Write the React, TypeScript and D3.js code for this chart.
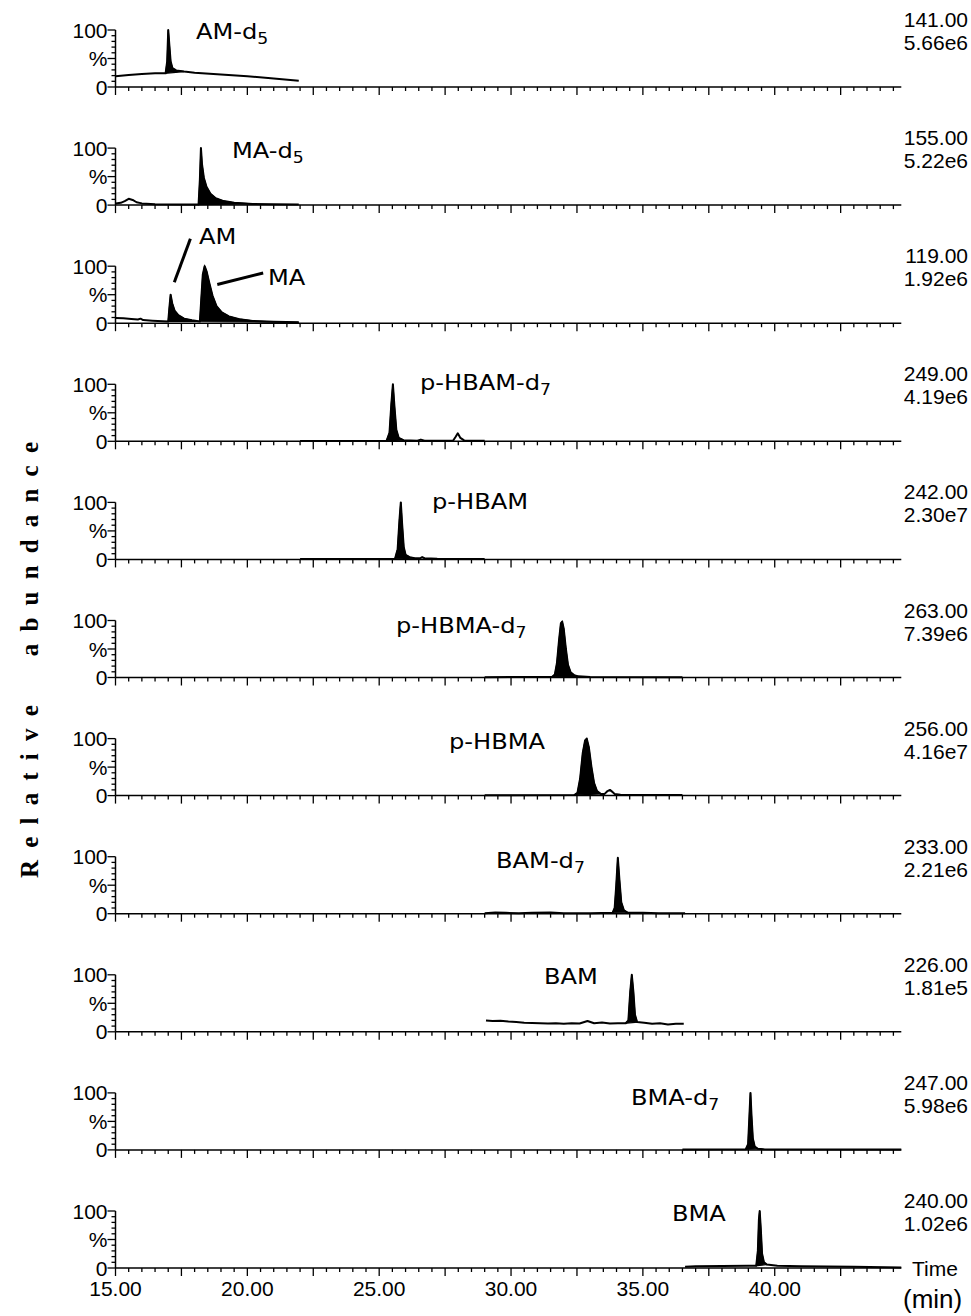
import React from 'react';
import * as d3 from 'd3';

type Pt = [number, number];

// retention time (min), relative abundance (%)
const amD5Trace: Pt[] = [
  [15.0, 19], [15.5, 21], [16.0, 23], [16.5, 24], [16.9, 24], [16.96, 45], [17.0, 100], [17.04, 75],
  [17.09, 45], [17.16, 33], [17.3, 29], [17.6, 27], [18.0, 25], [19.0, 22], [20.0, 19], [21.0, 15], [21.95, 11],
];
const maD5Trace: Pt[] = [
  [15.0, 3], [15.2, 4], [15.35, 7], [15.5, 11], [15.65, 9], [15.8, 5], [16.0, 3], [16.5, 1.5], [17.5, 1],
  [18.15, 1], [18.2, 45], [18.24, 100], [18.28, 72], [18.35, 48], [18.45, 32], [18.6, 20], [18.8, 12],
  [19.1, 7], [19.5, 4], [20.2, 2], [21.0, 1.5], [21.95, 1],
];
const amMaTrace: Pt[] = [
  [15.0, 9], [15.3, 8.5], [15.6, 7.5], [15.85, 6.5], [15.95, 8], [16.05, 5.5], [16.4, 4.5], [16.8, 3.5],
  [17.0, 3], [17.04, 25], [17.09, 50], [17.15, 35], [17.24, 22], [17.38, 14], [17.6, 8], [17.9, 5], [18.2, 3],
  [18.25, 40], [18.31, 85], [18.38, 100], [18.46, 90], [18.56, 70], [18.68, 48], [18.83, 30], [19.03, 19],
  [19.3, 12], [19.7, 7], [20.2, 4], [21.0, 2.5], [21.95, 1.5],
];
const hbamD7Trace: Pt[] = [
  [22.0, 0.5], [25.28, 1], [25.39, 15], [25.46, 65], [25.52, 100], [25.58, 60], [25.65, 20], [25.74, 6],
  [25.92, 2], [26.45, 1], [26.58, 3], [26.72, 1], [27.8, 1], [27.9, 8], [27.98, 14], [28.08, 6],
  [28.22, 1.5], [29.0, 1],
];
const hbamTrace: Pt[] = [
  [22.0, 0.5], [25.6, 1], [25.7, 18], [25.77, 70], [25.82, 100], [25.87, 62], [25.93, 22], [26.0, 8],
  [26.15, 4], [26.35, 2], [26.55, 2], [26.63, 4], [26.72, 2], [27.2, 1], [29.0, 0.5],
];
const hbmaD7Trace: Pt[] = [
  [29.0, 0.5], [31.55, 1], [31.66, 5], [31.74, 25], [31.82, 65], [31.89, 95], [31.94, 98], [32.0, 85],
  [32.08, 50], [32.16, 22], [32.26, 9], [32.4, 4], [32.55, 2], [33.0, 1], [36.5, 0.5],
];
const hbmaTrace: Pt[] = [
  [29.0, 0.5], [32.4, 1], [32.52, 5], [32.62, 30], [32.72, 75], [32.81, 97], [32.87, 100], [32.95, 85],
  [33.05, 50], [33.15, 22], [33.26, 8], [33.4, 3], [33.55, 3], [33.66, 8], [33.75, 10], [33.83, 7],
  [33.93, 3], [34.15, 1.5], [36.5, 1],
];
const bamD7Trace: Pt[] = [
  [29.0, 1], [29.4, 2], [29.8, 1.5], [30.3, 1], [30.8, 1.5], [31.5, 2], [32.0, 1], [33.0, 1], [33.85, 1.5],
  [33.93, 10], [33.99, 50], [34.05, 98], [34.11, 60], [34.18, 20], [34.28, 6], [34.42, 2], [35.0, 1.5],
  [35.6, 1], [36.6, 1],
];
const bamTrace: Pt[] = [
  [29.05, 20], [29.3, 19], [29.6, 19.5], [29.9, 18], [30.2, 17], [30.5, 16], [30.8, 15.5], [31.1, 15],
  [31.4, 14.5], [31.7, 15], [32.0, 14], [32.3, 15], [32.6, 14.5], [32.9, 19], [33.15, 15], [33.45, 16.5],
  [33.75, 14.5], [34.05, 15], [34.35, 15], [34.45, 20], [34.52, 70], [34.58, 100], [34.64, 70], [34.7, 30],
  [34.78, 17], [35.05, 16], [35.35, 14], [35.65, 15], [35.95, 13], [36.25, 14], [36.55, 14],
];
const bmaD7Trace: Pt[] = [
  [36.5, 0.5], [38.9, 1], [38.99, 10], [39.04, 60], [39.08, 100], [39.12, 60], [39.17, 20], [39.24, 6],
  [39.36, 2], [39.6, 1], [44.8, 0.5],
];
const bmaTrace: Pt[] = [
  [36.6, 2], [37.0, 3], [38.0, 3.5], [39.0, 4], [39.3, 4], [39.36, 30], [39.4, 85], [39.43, 100],
  [39.47, 70], [39.52, 25], [39.59, 10], [39.7, 6], [40.1, 4], [41.0, 3], [42.0, 2.5], [43.0, 2], [44.8, 1],
];

const traces = [
  amD5Trace, maD5Trace, amMaTrace, hbamD7Trace, hbamTrace, hbmaD7Trace,
  hbmaTrace, bamD7Trace, bamTrace, bmaD7Trace, bmaTrace,
];

// integrated (filled) peak windows, min
const peakWindows: [number, number][][] = [
  [[16.9, 17.6]],
  [[18.15, 20.2]],
  [[17.0, 18.2], [18.2, 21.95]],
  [[25.28, 25.92]],
  [[25.6, 26.35]],
  [[31.55, 32.55]],
  [[32.4, 33.4]],
  [[33.85, 34.42]],
  [[34.35, 34.78]],
  [[38.9, 39.36]],
  [[39.3, 39.7]],
];

const massLabels = ['141.00', '155.00', '119.00', '249.00', '242.00', '263.00', '256.00', '233.00', '226.00', '247.00', '240.00'];
const intensityLabels = ['5.66e6', '5.22e6', '1.92e6', '4.19e6', '2.30e7', '7.39e6', '4.16e7', '2.21e6', '1.81e5', '5.98e6', '1.02e6'];

const compoundNames: [string, string][][] = [
  [['AM-d', '5']],
  [['MA-d', '5']],
  [['AM', ''], ['MA', '']],
  [['p-HBAM-d', '7']],
  [['p-HBAM', '']],
  [['p-HBMA-d', '7']],
  [['p-HBMA', '']],
  [['BAM-d', '7']],
  [['BAM', '']],
  [['BMA-d', '7']],
  [['BMA', '']],
];

// label placement: [left x px, offset from panel baseline px]
const namePlacement: [number, number][][] = [
  [[196, -48]],
  [[232, -47]],
  [[199, -79], [268, -38]],
  [[420, -51]],
  [[432, -50]],
  [[396, -45]],
  [[449, -47]],
  [[496, -46]],
  [[544, -48]],
  [[631, -45]],
  [[672, -47]],
];

// pointer lines in panel 3 (time, %)
const pointerLines: [Pt, Pt][] = [
  [[17.23, 72], [17.84, 148]],
  [[18.86, 68], [20.6, 88]],
];

const xTickLabels = [15, 20, 25, 30, 35, 40];

const W = 971;
const H = 1316;
const panelTop0 = 87;
const panelStep = 118.1;
const panelH = 57;

export default function App() {
  const x = d3.scaleLinear().domain([15, 44.8]).range([115.5, 901.3]);
  const minorTicks = d3.range(15, 44.81, 0.5);

  return (
    <svg width={W} height={H} style={{ position: 'absolute', left: 0, top: 0, background: '#fff' }}>
      <text
        transform="translate(38,660) rotate(-90)"
        textAnchor="middle"
        fontFamily="Liberation Serif"
        fontWeight="bold"
        fontSize={25}
        textLength={436}
        lengthAdjust="spacing"
        style={{ whiteSpace: 'pre' }}
      >
        Relative  abundance
      </text>

      {traces.map((trace, i) => {
        const base = panelTop0 + i * panelStep;
        const y = d3.scaleLinear().domain([0, 100]).range([base, base - panelH]);
        const line = d3.line<Pt>().x((d) => x(d[0])).y((d) => y(d[1]));
        const x0 = x(15);
        return (
          <g key={i}>
            {/* filled peaks */}
            {peakWindows[i].map(([t0, t1], k) => {
              const pts = trace.filter((p) => p[0] >= t0 - 1e-9 && p[0] <= t1 + 1e-9);
              return <path key={k} d={line(pts) + 'Z'} fill="#000" stroke="#000" strokeWidth={1.2} />;
            })}
            <path d={line(trace) || ''} fill="none" stroke="#000" strokeWidth={2} strokeLinejoin="round" />

            {/* x axis */}
            <line x1={x0} x2={x(44.8)} y1={base} y2={base} stroke="#000" strokeWidth={1.5} />
            {minorTicks.map((t) => {
              const major = Math.abs(t / 2.5 - Math.round(t / 2.5)) < 1e-6;
              return (
                <line key={t} x1={x(t)} x2={x(t)} y1={base} y2={base + (major ? 8 : 4)} stroke="#000" strokeWidth={1.3} />
              );
            })}

            {/* y axis */}
            <line x1={x0} x2={x0} y1={base} y2={base - panelH} stroke="#000" strokeWidth={1.5} />
            {d3.range(0, 101, 10).map((v) => {
              const major = v % 50 === 0;
              return (
                <line key={v} x1={x0 - (major ? 8 : 4)} x2={x0} y1={y(v)} y2={y(v)} stroke="#000" strokeWidth={1.3} />
              );
            })}
            {[
              [100, '100'],
              [50, '%'],
              [0, '0'],
            ].map(([v, s]) => (
              <text key={s as string} x={x0 - 8} y={y(v as number)} dy="0.36em" textAnchor="end" fontFamily="Liberation Sans" fontSize={21}>
                {s}
              </text>
            ))}

            {/* right hand m/z and intensity */}
            <text x={968} y={base - 60} textAnchor="end" fontFamily="Liberation Sans" fontSize={21}>
              {massLabels[i]}
            </text>
            <text x={968} y={base - 37} textAnchor="end" fontFamily="Liberation Sans" fontSize={21}>
              {intensityLabels[i]}
            </text>

            {/* compound names */}
            {compoundNames[i].map(([name, sub], k) => {
              const [lx, dy] = namePlacement[i][k];
              return (
                <text key={k} transform={`translate(${lx},${base + dy}) scale(1.15,1)`} fontFamily="DejaVu Sans" fontSize={21}>
                  {name}
                  {sub && (
                    <tspan fontSize={15} dy={5}>
                      {sub}
                    </tspan>
                  )}
                </text>
              );
            })}

            {i === 2 &&
              pointerLines.map(([a, b], k) => (
                <line key={k} x1={x(a[0])} y1={y(a[1])} x2={x(b[0])} y2={y(b[1])} stroke="#000" strokeWidth={3} />
              ))}

            {i === traces.length - 1 &&
              xTickLabels.map((t) => (
                <text key={t} x={x(t)} y={base + 28} textAnchor="middle" fontFamily="Liberation Sans" fontSize={21}>
                  {t.toFixed(2)}
                </text>
              ))}
          </g>
        );
      })}

      <text x={912} y={panelTop0 + 10 * panelStep + 8} fontFamily="Liberation Sans" fontSize={21}>
        Time
      </text>
      <text x={903} y={1308} fontFamily="Liberation Sans" fontSize={26}>
        (min)
      </text>
    </svg>
  );
}
